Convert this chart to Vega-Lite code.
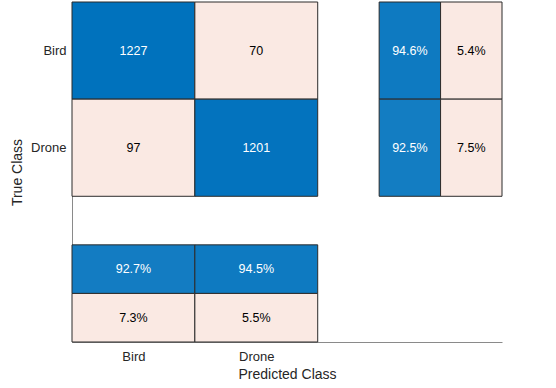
{
  "$schema": "https://vega.github.io/schema/vega-lite/v6.json",
  "width": 430,
  "height": 340,
  "autosize": {"type": "none"},
  "padding": {"left": 72, "top": 2, "right": 54, "bottom": 46},
  "config": {"view": {"stroke": null}, "font": "Liberation Sans"},
  "data": {"values": [
    {"x0": 0, "x1": 1, "xc": 0.5, "y0": 0, "y1": 1, "yc": 0.5, "label": "1227", "kind": "correct", "frac": 1},
    {"x0": 1, "x1": 2, "xc": 1.5, "y0": 0, "y1": 1, "yc": 0.5, "label": "70", "kind": "incorrect", "frac": 0.054},
    {"x0": 0, "x1": 1, "xc": 0.5, "y0": 1, "y1": 2, "yc": 1.5, "label": "97", "kind": "incorrect", "frac": 0.075},
    {"x0": 1, "x1": 2, "xc": 1.5, "y0": 1, "y1": 2, "yc": 1.5, "label": "1201", "kind": "correct", "frac": 0.99},
    {"x0": 2.5, "x1": 3, "xc": 2.75, "y0": 0, "y1": 1, "yc": 0.5, "label": "94.6%", "kind": "correct", "frac": 0.946},
    {"x0": 3, "x1": 3.5, "xc": 3.25, "y0": 0, "y1": 1, "yc": 0.5, "label": "5.4%", "kind": "incorrect", "frac": 0.054},
    {"x0": 2.5, "x1": 3, "xc": 2.75, "y0": 1, "y1": 2, "yc": 1.5, "label": "92.5%", "kind": "correct", "frac": 0.925},
    {"x0": 3, "x1": 3.5, "xc": 3.25, "y0": 1, "y1": 2, "yc": 1.5, "label": "7.5%", "kind": "incorrect", "frac": 0.075},
    {"x0": 0, "x1": 1, "xc": 0.5, "y0": 2.5, "y1": 3, "yc": 2.75, "label": "92.7%", "kind": "correct", "frac": 0.927},
    {"x0": 1, "x1": 2, "xc": 1.5, "y0": 2.5, "y1": 3, "yc": 2.75, "label": "94.5%", "kind": "correct", "frac": 0.945},
    {"x0": 0, "x1": 1, "xc": 0.5, "y0": 3, "y1": 3.5, "yc": 3.25, "label": "7.3%", "kind": "incorrect", "frac": 0.073},
    {"x0": 1, "x1": 2, "xc": 1.5, "y0": 3, "y1": 3.5, "yc": 3.25, "label": "5.5%", "kind": "incorrect", "frac": 0.055}
  ]},
  "layer": [
    {
      "mark": {"type": "rect", "stroke": "#2b2b2b", "strokeWidth": 1},
      "encoding": {
        "x": {"field": "x0", "type": "quantitative",
          "scale": {"domain": [0, 3.5], "nice": false, "zero": false},
          "axis": {"title": "Predicted Class", "values": [0.5, 1.5],
            "labelExpr": "datum.value < 1 ? 'Bird' : 'Drone'",
            "ticks": false, "grid": false, "domainColor": "#8a8a8a",
            "labelFontSize": 13, "labelColor": "#262626", "labelPadding": 8,
            "titleFontSize": 14, "titleFontWeight": "normal", "titleColor": "#262626", "titlePadding": 4}},
        "x2": {"field": "x1"},
        "y": {"field": "y0", "type": "quantitative",
          "scale": {"domain": [0, 3.5], "nice": false, "zero": false, "reverse": true},
          "axis": {"title": "True Class", "values": [0.5, 1.5],
            "labelExpr": "datum.value < 1 ? 'Bird' : 'Drone'",
            "ticks": false, "grid": false, "domainColor": "#8a8a8a",
            "labelFontSize": 13, "labelColor": "#262626", "labelPadding": 6,
            "titleFontSize": 14, "titleFontWeight": "normal", "titleColor": "#262626", "titlePadding": 6}},
        "y2": {"field": "y1"},
        "color": {
          "condition": {"test": "datum.kind === 'incorrect'", "value": "#FAE9E3"},
          "field": "frac", "type": "quantitative",
          "scale": {"domain": [0, 1], "range": ["#ffffff", "#0072BD"], "interpolate": "rgb"},
          "legend": null}
      }
    },
    {
      "mark": {"type": "text", "fontSize": 12.5, "baseline": "middle", "align": "center"},
      "encoding": {
        "x": {"field": "xc", "type": "quantitative"},
        "y": {"field": "yc", "type": "quantitative"},
        "text": {"field": "label"},
        "color": {
          "condition": {"test": "datum.kind === 'correct'", "value": "#ffffff"},
          "value": "#000000"}
      }
    }
  ]
}
